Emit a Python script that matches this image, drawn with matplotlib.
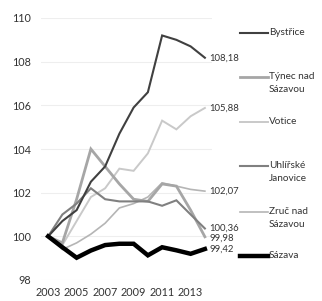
import matplotlib
matplotlib.use("Agg")
import matplotlib.pyplot as plt
from matplotlib.lines import Line2D

plt.rcParams['font.family'] = ['Lato', 'DejaVu Sans']

years = list(range(2003, 2015))
series_names = ["Bystřice", "Týnec nad\nSázavou", "Votice", "Uhlířské\nJanovice", "Zruč nad\nSázavou", "Sázava"]
bystrice = [100, 100.7, 101.2, 102.5, 103.2, 104.7, 105.9, 106.6, 109.2, 109.0, 108.7, 108.18]
tynec = [100, 99.7, 101.7, 104.0, 103.2, 102.4, 101.7, 101.6, 102.4, 102.3, 101.2, 99.98]
votice = [100, 99.6, 100.7, 101.8, 102.2, 103.1, 103.0, 103.8, 105.3, 104.9, 105.5, 105.88]
uhlirske = [100, 101.0, 101.5, 102.2, 101.7, 101.6, 101.6, 101.6, 101.4, 101.65, 101.0, 100.36]
zruc = [100, 99.4, 99.7, 100.1, 100.6, 101.3, 101.5, 101.8, 102.45, 102.3, 102.15, 102.07]
sazava = [100, 99.5, 99.02, 99.35, 99.6, 99.66, 99.66, 99.13, 99.5, 99.36, 99.2, 99.42]
yticks = [98, 100, 102, 104, 106, 108, 110]
xticks = [2003, 2005, 2007, 2009, 2011, 2013]

data = [bystrice, tynec, votice, uhlirske, zruc, sazava]
colors = ["#404040", "#a6a6a6", "#c9c9c9", "#808080", "#b5b5b5", "#000000"]
widths = [1.5, 2.0, 1.4, 1.5, 1.2, 3.2]
zorders = [5, 3, 2, 4, 2, 6]

W, H = 322, 301
fig = plt.figure(figsize=(W / 100, H / 100), dpi=100)
ax = fig.add_axes([41 / W, 1 - 280 / H, (212 - 41) / W, (280 - 18) / H])

for vals, c, lw, z in zip(data, colors, widths, zorders):
    ax.plot(years, vals, color=c, lw=lw, zorder=z, solid_joinstyle='miter')

ax.set_xlim(2002.5, 2014.5)
ax.set_ylim(98, 110)
ax.set_yticks(yticks)
ax.set_yticklabels([str(v) for v in yticks])
ax.set_xticks(xticks)
ax.set_xticklabels([str(v) for v in xticks])
ax.tick_params(length=0, labelsize=7.8, colors="#333333")
ax.tick_params(axis='y', pad=7)
ax.tick_params(axis='x', pad=5)
for s in ax.spines.values():
    s.set_visible(False)
ax.grid(axis='y', color="#eeeeee", lw=0.8, zorder=0)

# end labels
labels_end = [(bystrice[-1], "108,18"), (votice[-1], "105,88"), (zruc[-1], "102,07"),
              (uhlirske[-1], "100,36"), (tynec[-1] - 0.05, "99,98"), (sazava[-1], "99,42")]
for v, t in labels_end:
    ax.text(2014.3, v, t, fontsize=6.8, color="#333333", va='center', ha='left', clip_on=False)

# legend (manual)
leg_y = [33, 77, 122, 166, 212, 256]
for name, c, lw, yy in zip(series_names, colors, widths, leg_y):
    fig.add_artist(Line2D([240 / W, 268 / W], [1 - yy / H, 1 - yy / H], color=c, lw=lw))
    fig.text(269 / W, 1 - (yy - 5) / H, name, fontsize=7.2, color="#333333",
             va='top', ha='left', linespacing=1.6)

fig.savefig("out.png", dpi=100)
